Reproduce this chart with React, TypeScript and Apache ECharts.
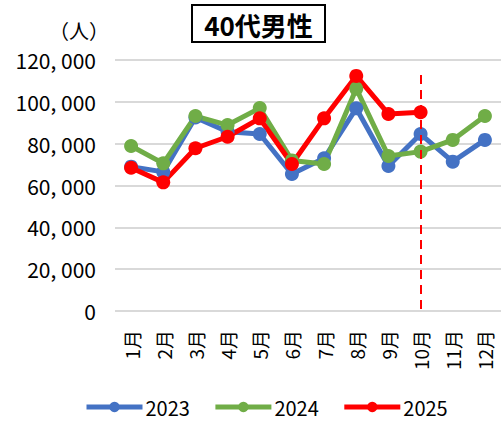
import React, { useEffect, useRef } from "react";
import * as echarts from "echarts";

const months = ["1月", "2月", "3月", "4月", "5月", "6月", "7月", "8月", "9月", "10月", "11月", "12月"];
const v2023 = [69000, 66500, 92500, 85700, 84600, 65500, 73000, 96900, 69300, 84600, 71400, 81800];
const v2024 = [78900, 70600, 93200, 88900, 97000, 72000, 70300, 106300, 74100, 76200, 81800, 93200];
const v2025 = [68500, 61500, 77800, 83300, 92100, 70300, 92100, 112400, 94200, 95000];
const yTicks = { min: 0, max: 120000, interval: 20000 };
const markTop = 112800;

const FONT = "'Noto Sans CJK JP', 'Noto Sans', sans-serif";

export default function App() {
  const ref = useRef<HTMLDivElement>(null);
  useEffect(() => {
    if (!ref.current) return;
    const chart = echarts.init(ref.current, undefined, { renderer: "svg" });
    const mk = (name: string, data: number[], color: string, extra: any = {}) => ({
      name,
      type: "line",
      data,
      symbol: "circle",
      symbolSize: 14,
      itemStyle: { color },
      lineStyle: { color, width: 5 },
      ...extra,
    });
    chart.setOption({
      animation: false,
      textStyle: { fontFamily: FONT },
      graphic: [
        {
          type: "rect",
          shape: { x: 192, y: 5, width: 133, height: 37 },
          style: { fill: "#fff", stroke: "#000", lineWidth: 2 },
        },
        {
          type: "text",
          x: 258.5,
          y: 24,
          style: {
            text: "40代男性",
            font: `bold 26px ${FONT}`,
            fill: "#000",
            align: "center",
            verticalAlign: "middle",
          },
        },
        {
          type: "text",
          x: 79,
          y: 30,
          style: {
            text: "（人）",
            font: `20px ${FONT}`,
            fill: "#000",
            align: "center",
            verticalAlign: "middle",
          },
        },
      ],
      legend: {
        left: 79,
        top: 392,
        itemWidth: 56,
        itemHeight: 13,
        itemGap: 23,
        lineStyle: { width: 5 },
        textStyle: { fontSize: 20, color: "#000", fontFamily: FONT, padding: [0, 0, 0, -2] },
        data: ["2023", "2024", "2025"],
      },
      grid: { left: 115, top: 60, width: 390, height: 251 },
      xAxis: {
        type: "category",
        data: months,
        boundaryGap: true,
        axisLine: { show: false },
        axisTick: { show: false },
        axisLabel: { rotate: 90, fontSize: 19, color: "#000", margin: 19, fontFamily: FONT },
      },
      yAxis: {
        type: "value",
        min: yTicks.min,
        max: yTicks.max,
        interval: yTicks.interval,
        axisLine: { show: false },
        axisTick: { show: false },
        splitLine: { lineStyle: { color: "#d9d9d9", width: 2 } },
        axisLabel: {
          fontSize: 21,
          color: "#000",
          margin: 19,
          fontFamily: FONT,
          formatter: (v: number) => (v === 0 ? "0" : v.toLocaleString("en-US").replace(",", ", ")),
        },
      },
      series: [
        mk("2023", v2023, "#4472C4"),
        mk("2024", v2024, "#70AD47"),
        mk("2025", v2025, "#FF0000", {
          markLine: {
            silent: true,
            symbol: "none",
            label: { show: false },
            lineStyle: { color: "#FF0000", width: 2, type: [9, 6] },
            data: [[{ coord: ["10月", markTop] }, { coord: ["10月", 0] }]],
          },
        }),
      ],
    });
    return () => chart.dispose();
  }, []);
  return <div ref={ref} style={{ width: 501, height: 421, position: "absolute", left: 0, top: 0 }} />;
}
